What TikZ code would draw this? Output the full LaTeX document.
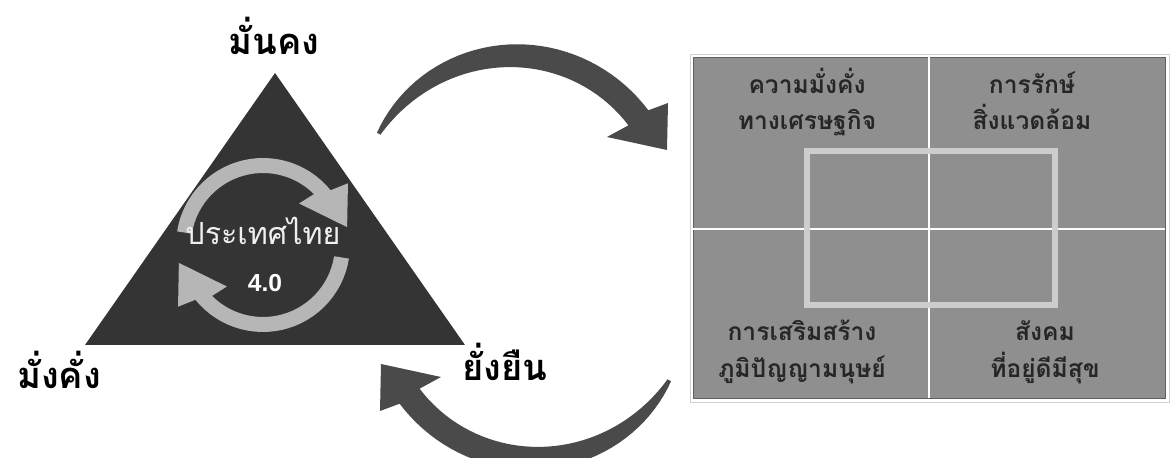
\documentclass[tikz,border=0pt]{standalone}
\usepackage{fontspec}
\setmainfont{Liberation Sans}
\newfontfamily\thaifont[Script=Thai]{Loma}
\usetikzlibrary{calc}
\definecolor{tridark}{RGB}{52,52,52}
\definecolor{swooshgray}{RGB}{74,74,74}
\definecolor{ringgray}{RGB}{182,182,182}
\definecolor{panelgray}{RGB}{143,143,143}
\definecolor{paneledge}{RGB}{95,95,95}
\definecolor{framegray}{RGB}{205,205,205}

\tikzset{
  % tapered curved arrow, drawn once and turned for the lower one
  swooshpic/.pic={
    \fill[bigarrow] plot[domain=150:37, samples=40, variable=\t]
        ({513.8+(156+aw(\t)/2)*cos(\t)}, {211.7-(156+aw(\t)/2)*sin(\t)})
      -- (668,103) -- (667,150) -- (607,137)
      -- plot[domain=37:150, samples=40, variable=\t]
        ({513.8+(156-aw(\t)/2)*cos(\t)}, {211.7-(156-aw(\t)/2)*sin(\t)})
      -- cycle;
  },
  % half of the ring of arrows round the centre text
  ringpic/.pic={
    \fill[ringarrow] plot[domain=171:39, samples=30, variable=\t]
        ({263+87*cos(\t)}, {245-87*sin(\t)})
      -- ({263+105*cos(36)}, {245-105*sin(36)})
      -- ({263+86*cos(12)}, {245-86*sin(12)})
      -- ({263+55*cos(49)}, {245-55*sin(49)})
      -- plot[domain=45:171, samples=30, variable=\t]
        ({263+72*cos(\t)}, {245-72*sin(\t)})
      -- cycle;
  }
}

\begin{document}
\begin{tikzpicture}[
  x=0.03cm, y=-0.03cm,
  declare function={aw(\t)=25-21*((\t-37)/113)^3;},
  bigarrow/.style={fill=swooshgray},
  ringarrow/.style={fill=ringgray},
  corner/.style={font=\thaifont\bfseries\fontsize{31}{34}\selectfont, anchor=base, inner sep=0pt},
  cell/.style={font=\thaifont\bfseries\fontsize{21}{31}\selectfont, text=black!85, align=center, anchor=base, inner sep=0pt},
  gridline/.style={draw=white, line width=1.5pt}
]
\useasboundingbox (0,0) rectangle (1174,458);

% triangle
\coordinate (apex) at (275,73);
\coordinate (baseR) at (465,345);
\coordinate (baseL) at (85,345);
\fill[tridark] (apex) -- (baseR) -- (baseL) -- cycle;

% ring of arrows
\pic at (0,0) {ringpic};
\pic[rotate=180] at (526,490) {ringpic};
\node[font=\thaifont\fontsize{26}{28}\selectfont, text=white!94!black, anchor=base, inner sep=0pt] (thai) at (263,245) {ประเทศไทย};
\node[font=\bfseries\fontsize{21}{23}\selectfont, text=white, anchor=base, inner sep=0pt] (ver) at (265,292) {4.0};

% corner words
\node[corner] (stable) at (274,55) {มั่นคง};
\node[corner] (wealthy) at (59,388) {มั่งคั่ง};
\node[corner] (sustain) at (505,381) {ยั่งยืน};

% curved arrows
\pic at (0,0) {swooshpic};
\pic[rotate=180] at (1048,514) {swooshpic};

% panel
\draw[gray!35, line width=0.6pt] (690,54) rectangle (1169,402);
\fill[panelgray] (693,57) rectangle (1165,398);
\draw[paneledge, line width=0.6pt] (693,57) rectangle (1165,398);
\draw[gridline] (929,57) -- (929,398);
\draw[gridline] (693,229) -- (1165,229);
\draw[framegray, line width=5.5pt] (807,151) rectangle (1055,305);

\node[cell] (econ) at (807,130) {ความมั่งคั่ง\\ทางเศรษฐกิจ};
\node[cell] (envir) at (1032,130) {การรักษ์\\สิ่งแวดล้อม};
\node[cell] (wisdom) at (802,377) {การเสริมสร้าง\\ภูมิปัญญามนุษย์};
\node[cell] (society) at (1045,377) {สังคม\\ที่อยู่ดีมีสุข};
\end{tikzpicture}
\end{document}
